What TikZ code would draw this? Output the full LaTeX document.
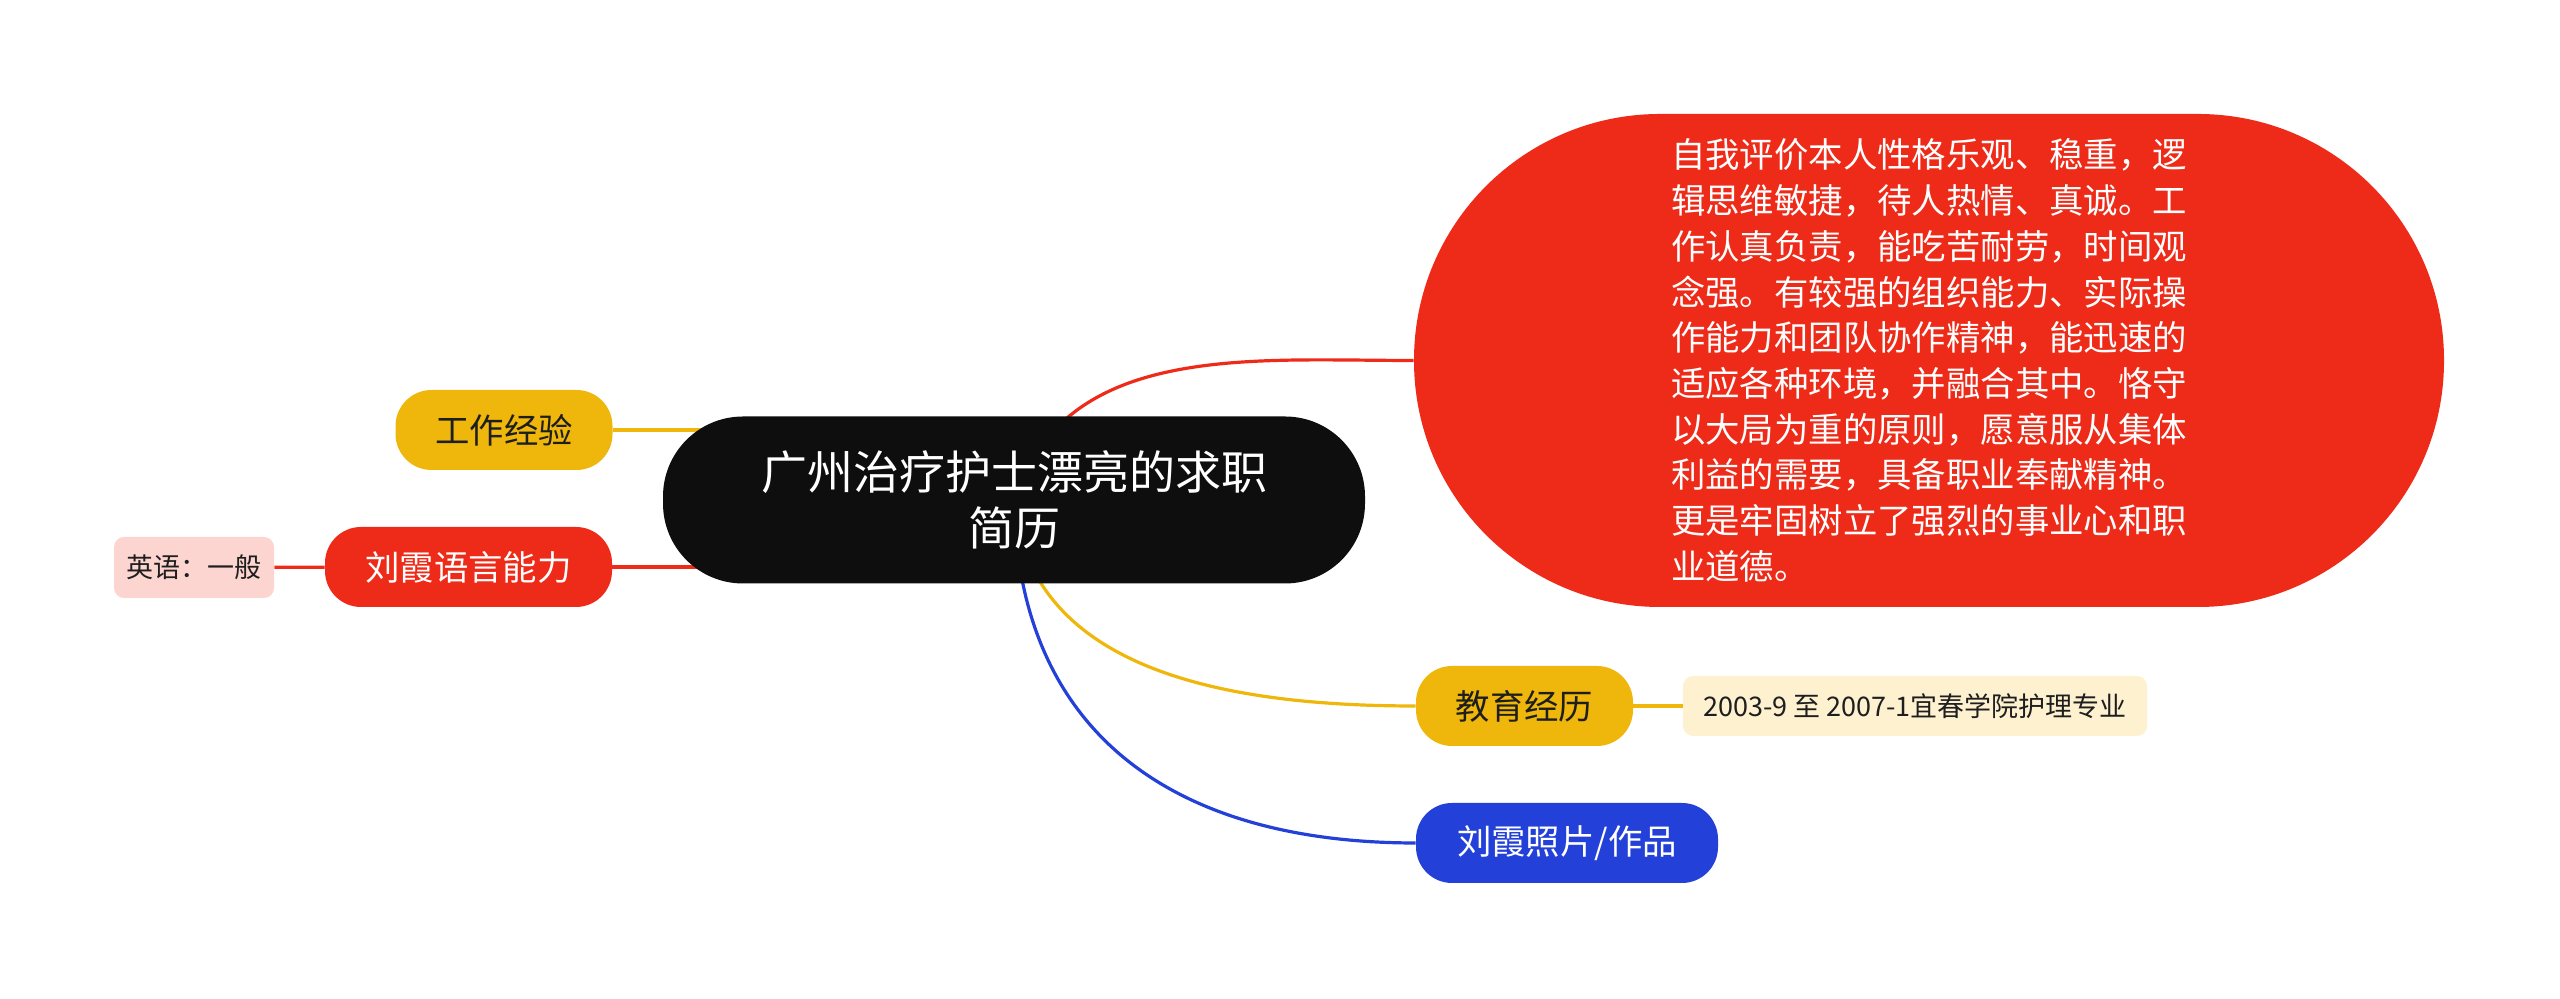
\documentclass[tikz,border=0pt]{standalone}
\usepackage{fontspec}
\setmainfont{Noto Sans CJK SC}
\usetikzlibrary{backgrounds}
\definecolor{mmred}{HTML}{EE2A18}
\definecolor{mmyellow}{HTML}{EFB70B}
\definecolor{mmblue}{HTML}{2340D8}
\definecolor{mmblack}{HTML}{0E0E0E}
\definecolor{mmpink}{HTML}{FDD5D0}
\definecolor{mmcream}{HTML}{FEF1D0}
\definecolor{mmtext}{HTML}{1E1E1E}

\begin{document}
\begin{tikzpicture}[x=1pt, y=1pt, topic/.style={rounded corners=18pt, minimum height=40pt, inner sep=0pt, font=\fontsize{17.2}{20}\selectfont}, leaf/.style={rounded corners=5pt, minimum height=30pt, inner sep=0pt, text=mmtext, font=\fontsize{13.5}{16}\selectfont}, link/.style={line width=1.6pt}]
\useasboundingbox (0,0) rectangle (1280,499.5);
% central topic
\node[fill=mmblack, text=white, rounded corners=40pt, minimum width=351pt, minimum height=83.5pt, align=center, font=\fontsize{23}{27.8}\selectfont] (root) at (507,249.5) {广州治疗护士漂亮的求职\\简历};
% left branches
\node[topic, fill=mmyellow, text=mmtext, minimum width=108.5pt] (work) at (252,284.5) {工作经验};
\node[topic, fill=mmred, text=white, minimum width=143.5pt] (lang) at (234.25,216) {刘霞语言能力};
\node[leaf, fill=mmpink, minimum width=80pt, minimum height=30.5pt] (eng) at (97,215.75) {英语：一般};
% right branches
\node[fill=mmred, text=white, rounded corners=123pt, minimum width=515pt, minimum height=246.5pt, inner sep=0pt, align=left, font=\fontsize{17.2}{22.85}\selectfont] (eval) at (964.5,319.25) {自我评价本人性格乐观、稳重，逻\\辑思维敏捷，待人热情、真诚。工\\作认真负责，能吃苦耐劳，时间观\\念强。有较强的组织能力、实际操\\作能力和团队协作精神，能迅速的\\适应各种环境，并融合其中。恪守\\以大局为重的原则，愿意服从集体\\利益的需要，具备职业奉献精神。\\更是牢固树立了强烈的事业心和职\\业道德。};
\node[topic, fill=mmyellow, text=mmtext, minimum width=108.5pt] (edu) at (762.25,146.5) {教育经历};
\node[leaf, fill=mmcream, minimum width=232pt] (date) at (957.5,146.5) {2003-9 至 2007-1宜春学院护理专业};
\node[topic, fill=mmblue, text=white, minimum width=151pt] (photo) at (783.5,78) {刘霞照片/作品};
% connectors
\begin{scope}[on background layer]
\draw[link, mmred] (root.center) to[out=72, in=180] (eval.west);
\draw[link, mmyellow] (root.center) to[out=-85, in=180] (edu.west);
\draw[link, mmblue] (root.center) to[out=-89, in=180, looseness=1.15] (photo.west);
\draw[link, mmyellow] (work) -- (work -| root);
\draw[link, mmred] (lang) -- (lang -| root);
\draw[link, mmred] (eng) -- (lang);
\draw[link, mmyellow] (edu) -- (date);
\end{scope}
\end{tikzpicture}
\end{document}
